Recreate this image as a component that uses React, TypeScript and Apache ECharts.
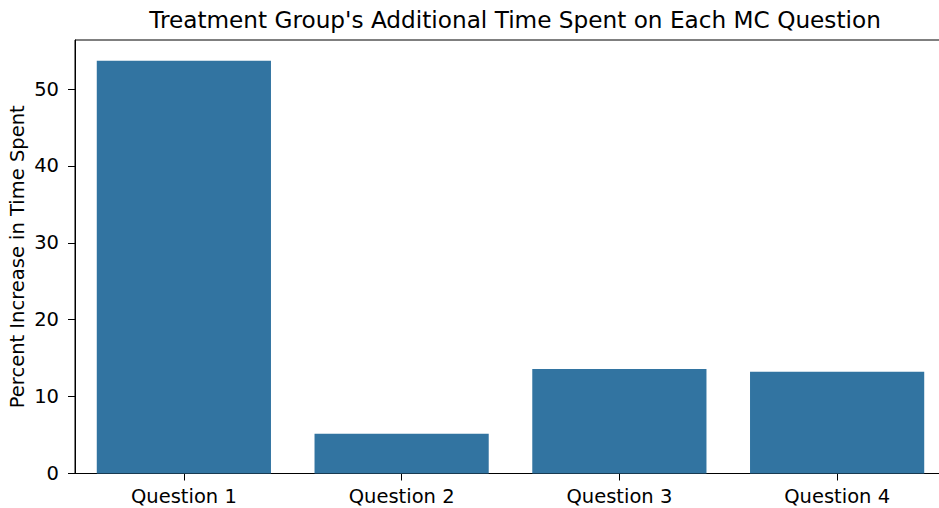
import React, { useEffect, useRef } from "react";
import * as echarts from "echarts";

const categories = ["Question 1", "Question 2", "Question 3", "Question 4"];
const percentIncrease = [53.7, 5.16, 13.58, 13.23];
const yTicks = [0, 10, 20, 30, 40, 50];
const titleText = "Treatment Group's Additional Time Spent on Each MC Question";
const yLabel = "Percent Increase in Time Spent";

const FONT = "DejaVu Sans";

export default function App() {
  const ref = useRef<HTMLDivElement>(null);
  useEffect(() => {
    document.body.style.margin = "0";
    const chart = echarts.init(ref.current!, null, { renderer: "svg" });
    const yMax = Math.max(...percentIncrease) * 1.05;
    chart.setOption({
      animation: false,
      backgroundColor: "#ffffff",
      title: {
        text: titleText,
        left: 510,
        top: 3,
        textAlign: "center",
        textStyle: { fontFamily: FONT, fontSize: 23.2, fontWeight: "normal", color: "#000" },
      },
      grid: {
        left: 75,
        top: 40,
        width: 871,
        height: 433.5,
        show: true,
        borderColor: "#000",
        borderWidth: 1,
        backgroundColor: "transparent",
        containLabel: false,
        outerBoundsMode: "none",
      },
      xAxis: {
        type: "category",
        data: categories,
        axisLine: { show: true, lineStyle: { color: "#000", width: 1 } },
        axisTick: { show: true, alignWithLabel: true, length: 7, lineStyle: { color: "#000" } },
        axisLabel: { fontFamily: FONT, fontSize: 19.5, color: "#000", margin: 13 },
        splitLine: { show: false },
      },
      yAxis: {
        type: "value",
        min: 0,
        max: yMax,
        name: yLabel,
        nameLocation: "middle",
        nameGap: 48,
        nameMoveOverlap: false,
        nameTextStyle: { fontFamily: FONT, fontSize: 19.5, color: "#000" },
        axisLine: { show: true, lineStyle: { color: "#000", width: 1 } },
        axisTick: { show: true, length: 7, customValues: yTicks, lineStyle: { color: "#000" } },
        axisLabel: { fontFamily: FONT, fontSize: 19.5, color: "#000", margin: 16, customValues: yTicks },
        splitLine: { show: false },
      },
      series: [
        {
          type: "bar",
          data: percentIncrease,
          barCategoryGap: "20%",
          itemStyle: { color: "#3274a1" },
        },
      ],
    });
    return () => chart.dispose();
  }, []);
  return (
    <div
      ref={ref}
      style={{ position: "absolute", left: 0, top: 0, width: 939, height: 508 }}
    />
  );
}
